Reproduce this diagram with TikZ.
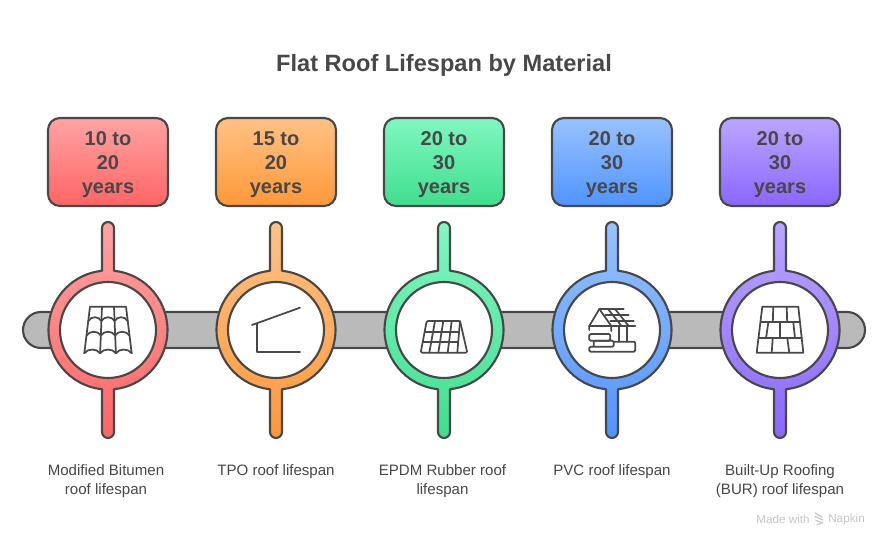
\documentclass[tikz,border=0pt]{standalone}
\usepackage{fontspec}
\setmainfont{Liberation Sans}
\definecolor{ink}{HTML}{484848}
\definecolor{barfill}{HTML}{BABABA}
\definecolor{rA}{HTML}{FFA3A3}\definecolor{rB}{HTML}{FF6464}
\definecolor{oA}{HTML}{FFC285}\definecolor{oB}{HTML}{FF9838}
\definecolor{gA}{HTML}{80F7C0}\definecolor{gB}{HTML}{40DE8E}
\definecolor{bA}{HTML}{99C2FF}\definecolor{bB}{HTML}{4F94FF}
\definecolor{pA}{HTML}{BBA6FF}\definecolor{pB}{HTML}{8A66FF}
\definecolor{wmgrey}{HTML}{C6C6C6}
\newcommand{\lft}{\rule{0pt}{14.2pt}}
\tikzset{
  x=0.75pt,y=0.75pt,
  outline/.style={draw=ink,line width=1.6pt,line join=round},
  valuebox/.style={outline,rounded corners=9pt,minimum width=90pt,minimum height=66pt,inner sep=0pt,
     align=center,text=ink,font=\fontsize{15pt}{18pt}\selectfont\bfseries},
  hole/.style={circle,draw=ink,fill=white,line width=1.6pt,minimum size=72pt,inner sep=0pt},
  caption/.style={text=ink,align=center,anchor=north,font=\fontsize{11.3pt}{14.4pt}\selectfont},
  icon/.style={draw=ink,line width=1.3pt,line join=round,line cap=round},
}
\newcommand{\stemring}[3]{% centre x, top colour, bottom colour
  \shade[top color=#2,bottom color=#3,draw=ink,line width=1.6pt,line join=round]
    (#1-6,275.2) -- (#1-6,318) arc[start angle=180,end angle=0,radius=6] -- (#1+6,275.2)
    arc[start angle=84.2,end angle=-84.2,radius=59.5] -- (#1+6,114)
    arc[start angle=0,end angle=-180,radius=6] -- (#1-6,156.8)
    arc[start angle=-95.8,end angle=-264.2,radius=59.5] -- cycle;
}
\newcommand{\scallop}[3]{% y, outer, inner
  \draw[icon] (-#2,#1) .. controls (-#2+3,#1+5) and (-#3-3,#1+5) .. (-#3,#1)
     .. controls (-#3+3,#1+5) and (#3-3,#1+5) .. (#3,#1)
     .. controls (#3+3,#1+5) and (#2-3,#1+5) .. (#2,#1);
}
\begin{document}
\begin{tikzpicture}
\useasboundingbox (0,0) rectangle (889,546);
\fill[white] (0,0) rectangle (889,546);
\node[text=ink,font=\fontsize{17.7pt}{22pt}\selectfont\bfseries] (title) at (444,481) {Flat Roof Lifespan by Material};
% bar
\draw[outline,fill=barfill] (41,234) -- (847,234) arc[start angle=90,end angle=-90,radius=18] -- (41,198) arc[start angle=270,end angle=90,radius=18] -- cycle;
% rings
\stemring{108}{rA}{rB}
\stemring{276}{oA}{oB}
\stemring{444}{gA}{gB}
\stemring{612}{bA}{bB}
\stemring{780}{pA}{pB}
\node[hole] (h1) at (108,216) {};
\node[hole] (h2) at (276,216) {};
\node[hole] (h3) at (444,216) {};
\node[hole] (h4) at (612,216) {};
\node[hole] (h5) at (780,216) {};
% boxes
\node[valuebox,top color=rA,bottom color=rB] (b1) at (108,384) {\lft 10 to\\20\\years};
\node[valuebox,top color=oA,bottom color=oB] (b2) at (276,384) {\lft 15 to\\20\\years};
\node[valuebox,top color=gA,bottom color=gB] (b3) at (444,384) {\lft 20 to\\30\\years};
\node[valuebox,top color=bA,bottom color=bB] (b4) at (612,384) {\lft 20 to\\30\\years};
\node[valuebox,top color=pA,bottom color=pB] (b5) at (780,384) {\lft 20 to\\30\\years};
% captions
\node[caption] (c1) at (106,86) {Modified Bitumen\\roof lifespan};
\node[caption] (c2) at (276,86) {TPO roof lifespan};
\node[caption] (c3) at (442.5,86) {EPDM Rubber roof\\lifespan};
\node[caption] (c4) at (612,86) {PVC roof lifespan};
\node[caption] (c5) at (780,86) {Built-Up Roofing\\(BUR) roof lifespan};
% icon 1: tiles
\begin{scope}[shift={(108,216)}]
\draw[icon] (-23.7,-23.3) -- (-18,23.3) -- (18,23.3) -- (23.7,-23.3);
\draw[icon] (-6,23.3) -- (-7.9,-23.3);
\draw[icon] (6,23.3) -- (7.9,-23.3);
\scallop{9}{19.7}{6.6}
\scallop{-5.5}{21.4}{7.1}
\scallop{-23.3}{23.7}{7.9}
\end{scope}
% icon 2: lean-to
\begin{scope}[shift={(276,216)}]
\draw[icon] (-24,5) -- (24,22.3);
\draw[icon] (-19.3,6.5) -- (-19.3,-21.7) -- (24,-21.7);
\end{scope}
% icon 3: solar panel
\begin{scope}[shift={(444,216)}]
\draw[icon,rounded corners=1pt] (-17.3,9) -- (16,9) -- (23.3,-22.7) -- (-23.3,-22.7) -- cycle;
\draw[icon] (16,9) -- (13.3,-22.7);
\draw[icon] (-9,9) -- (-14.7,-22.7);
\draw[icon] (-0.7,9) -- (-5.7,-22.7);
\draw[icon] (7.7,9) -- (3.7,-22.7);
\draw[icon] (-19.3,-1.7) -- (14.7,-1.7);
\draw[icon] (-21.3,-12.3) -- (13.7,-12.3);
\end{scope}
% icon 4: house with solar roof
\begin{scope}[shift={(612,216)}]
\draw[icon] (-22.7,0) -- (-22.7,4) -- (-12.7,21) -- (11.7,21);
\draw[icon] (-22.7,4) -- (23.3,4);
\draw[icon] (-6.7,15) -- (16.7,15);
\draw[icon] (-1.7,9.3) -- (21.7,9.3);
\draw[icon] (-12.7,21) -- (-0.7,4) -- (-0.7,-1);
\draw[icon] (-4,21) -- (9.5,4);
\draw[icon] (3,21) -- (16.7,4);
\draw[icon] (6.7,4) -- (6.7,-11.7);
\draw[icon] (15,4) -- (15,-11.7);
\draw[icon,rounded corners=1pt] (1.7,-11.7) -- (23.3,-11.7) -- (23.3,-21.7) -- (-22.7,-21.7) -- (-22.7,-16.7) -- (1.7,-16.7) -- (1.7,-10.7) -- (-18.3,-10.7) -- (-18.3,-16.7);
\draw[icon,rounded corners=1pt] (-22.7,-4) -- (-1.7,-4) -- (-1.7,-10.7) -- (-22.7,-10.7) -- cycle;
\end{scope}
% icon 5: built-up membrane
\begin{scope}[shift={(780,216)}]
\draw[icon] (-17.7,23.3) -- (18.3,23.3) -- (23.3,-22.7) -- (-23.3,-22.7) -- cycle;
\draw[icon] (-19.4,7.7) -- (20,7.7);
\draw[icon] (-21.2,-8.3) -- (21.6,-8.3);
\draw[icon] (-6.7,23.3) -- (-7.2,7.7);
\draw[icon] (6.7,23.3) -- (7.2,7.7);
\draw[icon] (-11.7,7.7) -- (-14,-8.3);
\draw[icon] (0,7.7) -- (0,-8.3);
\draw[icon] (13.3,7.7) -- (15,-8.3);
\draw[icon] (-7.3,-8.3) -- (-8.3,-22.7);
\draw[icon] (7.3,-8.3) -- (9.3,-22.7);
\end{scope}
% watermark
\node[text=wmgrey,anchor=west,inner sep=0pt,font=\fontsize{8.8pt}{10pt}\selectfont] (m1) at (756,27) {Made with};
\node[text=wmgrey,anchor=west,inner sep=0pt,font=\fontsize{8.8pt}{10pt}\selectfont] (m2) at (828,27) {Napkin};
\draw[wmgrey,line width=0.9pt,line cap=round] (815,33) -- (822,29) (815,29.5) -- (823,26) (816,25.5) -- (823,23) (817,21.5) -- (821,22.5);
\end{tikzpicture}
\end{document}
